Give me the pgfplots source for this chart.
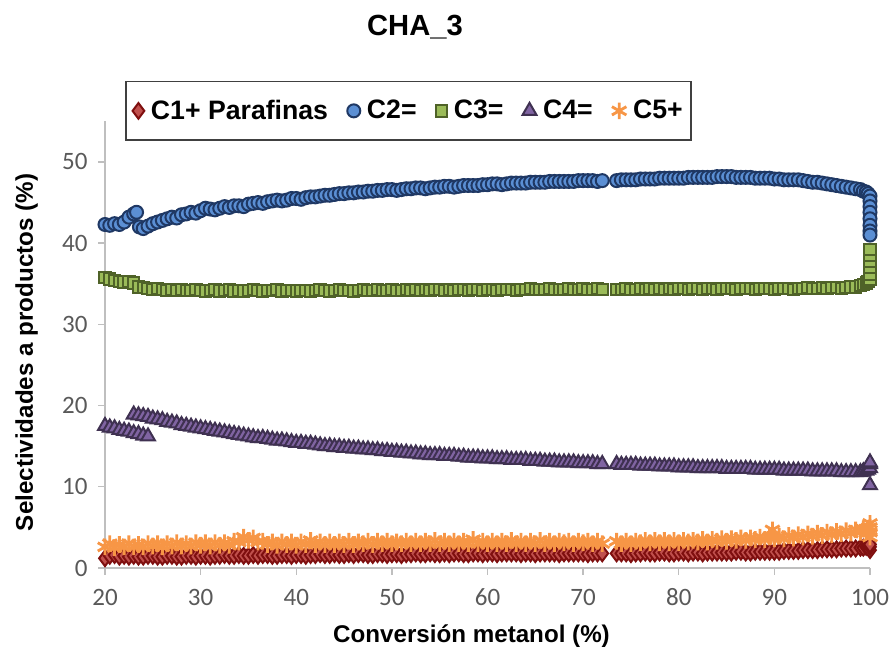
\documentclass[border=0pt]{standalone}
\usepackage{pgfplots}
\pgfplotsset{compat=1.18}
\usepackage{fontspec}
\setmainfont{Liberation Sans}
\newfontfamily\carlito{Carlito}
\definecolor{axisgray}{HTML}{BFBFBF}
\definecolor{tickgray}{HTML}{595959}
\definecolor{legendgray}{HTML}{404040}
\definecolor{redfill}{HTML}{C0504D}
\definecolor{rededge}{HTML}{7F0F0F}
\definecolor{bluefill}{HTML}{5B8FD4}
\definecolor{blueedge}{HTML}{1F3864}
\definecolor{greenfill}{HTML}{9BBB59}
\definecolor{greenedge}{HTML}{4F6228}
\definecolor{purplefill}{HTML}{8064A2}
\definecolor{purpleedge}{HTML}{3F3151}
\definecolor{orangec}{HTML}{F79646}
\pgfplotsset{
  mk/.style={only marks,
    legend image code/.code={\draw[##1] plot coordinates {(0pt,0pt)};}},
}
\begin{document}
\begin{tikzpicture}
\useasboundingbox (0,0) rectangle (535.8pt,389.4pt);
\begin{axis}[
  at={(63pt,48.6pt)}, anchor=south west,
  scale only axis, width=459pt, height=268pt,
  xmin=20, xmax=100, ymin=0, ymax=55,
  axis x line=bottom, axis y line=left,
  axis line style={-, draw=axisgray, line width=0.8pt},
  xtick={20,30,...,100}, ytick={0,10,...,50},
  tick align=outside, major tick length=4pt,
  tick style={draw=axisgray, line width=0.8pt},
  ticklabel style={font=\carlito\fontsize{15}{18}\selectfont, text=tickgray},
  xticklabel style={yshift=-5pt},
  yticklabel style={xshift=-3pt},
  /pgf/number format/assume math mode=true,
  clip=false,
  legend columns=5,
  legend style={at={(0.3967,1.0235)}, anchor=center, draw=legendgray,
    line width=0.8pt, font=\bfseries\fontsize{16}{19}\selectfont,
    inner xsep=4pt, inner ysep=9pt,
    /tikz/every odd column/.append style={column sep=3pt},
    /tikz/every even column/.append style={column sep=10.5pt},
    nodes={inner xsep=1pt}},
]
\addplot[mk, mark=diamond*, mark size=4.7pt, mark options={fill=redfill, draw=rededge, line width=1.2pt}] coordinates {
(20,1.2) (20.5,1.5) (21,1.6) (21.5,1.4) (22,1.5) (22.5,1.4) (23,1.5) (23.5,1.4) (24,1.4) (24.5,1.5) (25,1.5) (25.5,1.4) (26,1.4) (26.5,1.5) (27,1.5) (27.5,1.4) (28,1.4) (28.5,1.5) (29,1.5) (29.5,1.4) (30,1.5) (30.5,1.5) (31,1.4) (31.5,1.5) (32,1.5) (32.5,1.6) (33,1.5) (33.5,1.5) (34,1.6) (34.5,1.5) (35,1.5) (35.5,1.6) (36,1.5) (36.5,1.6) (37,1.6) (37.5,1.5) (38,1.5) (38.5,1.6) (39,1.6) (39.5,1.5) (40,1.6) (40.5,1.6) (41,1.5) (41.5,1.6) (42,1.6) (42.5,1.7) (43,1.6) (43.5,1.6) (44,1.7) (44.5,1.6) (45,1.6) (45.5,1.7) (46,1.6) (46.5,1.7) (47,1.7) (47.5,1.6) (48,1.6) (48.5,1.7) (49,1.7) (49.5,1.6) (50,1.7) (50.5,1.7) (51,1.6) (51.5,1.7) (52,1.7) (52.5,1.8) (53,1.7) (53.5,1.7) (54,1.8) (54.5,1.7) (55,1.7) (55.5,1.8) (56,1.7) (56.5,1.8) (57,1.8) (57.5,1.7) (58,1.7) (58.5,1.8) (59,1.8) (59.5,1.7) (60,1.8) (60.5,1.8) (61,1.7) (61.5,1.8) (62,1.8) (62.5,1.8) (63,1.8) (63.5,1.7) (64,1.8) (64.5,1.8) (65,1.7) (65.5,1.8) (66,1.8) (66.5,1.8) (67,1.8) (67.5,1.7) (68,1.8) (68.5,1.8) (69,1.8) (69.5,1.8) (70,1.8) (70.5,1.7) (71,1.8) (71.5,1.8) (72,1.8)
(73.5,1.8) (74,1.8) (74.5,1.8) (75,1.7) (75.5,1.8) (76,1.8) (76.5,1.9) (77,1.8) (77.5,1.8) (78,1.9) (78.5,1.9) (79,1.8) (79.5,1.8) (80,1.9) (80.5,1.9) (81,1.8) (81.5,1.9) (82,1.9) (82.5,1.8) (83,1.9) (83.5,1.9) (84,1.9) (84.5,1.9) (85,1.9) (85.5,1.9) (86,2.0) (86.5,2.0) (87,1.9) (87.5,1.9) (88,2.0) (88.5,2.0) (89,2.0) (89.5,2.0) (90,2.0) (90.5,2.0) (91,2.1) (91.5,2.1) (92,2.1) (92.5,2.1) (93,2.2) (93.5,2.2) (94,2.2) (94.5,2.2) (95,2.3) (95.5,2.3) (96,2.3) (96.5,2.3) (97,2.4) (97.5,2.4) (98,2.4) (98.5,2.4) (99,2.5) (99.3,2.5) (99.6,2.6) (99.8,2.6) (100,2.2) (100,2.6) (100,2.9)
};
\addlegendentry{C1+ Parafinas}
\addplot[mk, mark=*, mark size=3.9pt, mark options={fill=bluefill, draw=blueedge, line width=1.2pt}] coordinates {
(20,42.3) (20.5,42.2) (21,42.4) (21.5,42.3) (22,42.6) (22.5,43.2) (23,43.6) (23.3,43.8) (23.6,42.0) (24,41.8) (24.5,42.1) (25,42.4) (25.5,42.6) (26,42.8) (26.5,43.0) (27,43.2) (27.5,43.1) (28,43.5) (28.5,43.6) (29,43.8) (29.5,43.7)
(30,44.0) (30.5,44.3) (31,44.2) (31.5,44.1) (32,44.3) (32.5,44.5) (33,44.4) (33.5,44.6) (34,44.6) (34.5,44.5) (35,44.8) (35.5,44.9) (36,45.0) (36.5,44.9) (37,45.1) (37.5,45.2) (38,45.3) (38.5,45.2) (39,45.3) (39.5,45.5) (40,45.5) (40.5,45.4) (41,45.6) (41.5,45.7) (42,45.7) (42.5,45.8) (43,45.9) (43.5,45.9) (44,46.0) (44.5,46.1) (45,46.1) (45.5,46.2) (46,46.2) (46.5,46.3) (47,46.3) (47.5,46.4) (48,46.4) (48.5,46.5) (49,46.5) (49.5,46.6) (50,46.6) (50.5,46.5) (51,46.6) (51.5,46.7) (52,46.7) (52.5,46.8) (53,46.8) (53.5,46.7) (54,46.8) (54.5,46.9) (55,46.9) (55.5,47.0) (56,47.0) (56.5,46.9) (57,47.0) (57.5,47.1) (58,47.1) (58.5,47.1) (59,47.1) (59.5,47.2) (60,47.2) (60.5,47.3) (61,47.3) (61.5,47.2) (62,47.3) (62.5,47.4) (63,47.4) (63.5,47.4) (64,47.4) (64.5,47.5) (65,47.5) (65.5,47.5) (66,47.5) (66.5,47.6) (67,47.6) (67.5,47.6) (68,47.6) (68.5,47.6) (69,47.6) (69.5,47.7) (70,47.7) (70.5,47.7) (71,47.7) (71.5,47.6) (72,47.7)
(73.5,47.7) (74,47.8) (74.5,47.8) (75,47.8) (75.5,47.8) (76,47.9) (76.5,47.9) (77,47.9) (77.5,47.9) (78,48.0) (78.5,48.0) (79,48.0) (79.5,48.0) (80,48.0) (80.5,48.0) (81,48.1) (81.5,48.1) (82,48.1) (82.5,48.1) (83,48.1) (83.5,48.1) (84,48.2) (84.5,48.2) (85,48.2) (85.5,48.2) (86,48.1) (86.5,48.1) (87,48.1) (87.5,48.1) (88,48.0) (88.5,48.0) (89,48.0) (89.5,48.0) (90,47.9) (90.5,47.9) (91,47.8) (91.5,47.8) (92,47.8) (92.5,47.8) (93,47.7) (93.5,47.6) (94,47.5) (94.5,47.5) (95,47.4) (95.5,47.3) (96,47.2) (96.5,47.1) (97,47.0) (97.5,46.9) (98,46.8) (98.5,46.7) (99,46.6) (99.3,46.4) (99.6,46.3) (99.8,46.1) (100,45.8) (100,45.2) (100,44.5) (100,43.8) (100,43.0) (100,42.2) (100,41.5) (100,41.0)
};
\addlegendentry{C2=}
\addplot[mk, mark=square*, mark size=3.4pt, mark options={fill=greenfill, draw=greenedge, line width=1.2pt}] coordinates {
(20,35.8) (20.5,35.6) (21,35.4) (21.5,35.3) (22,35.2) (22.5,35.3) (23,35.1) (23.5,34.6) (24,34.5) (24.5,34.4) (25,34.3) (25.5,34.4) (26,34.3) (26.5,34.2) (27,34.3) (27.5,34.2) (28,34.3) (28.5,34.2) (29,34.2) (29.5,34.3)
(30,34.2) (30.5,34.1) (31,34.2) (31.5,34.3) (32,34.1) (32.5,34.2) (33,34.3) (33.5,34.1) (34,34.2) (34.5,34.1) (35,34.2) (35.5,34.3) (36,34.2) (36.5,34.1) (37,34.2) (37.5,34.2) (38,34.3) (38.5,34.1) (39,34.2) (39.5,34.2) (40,34.1) (40.5,34.2) (41,34.2) (41.5,34.1) (42,34.2) (42.5,34.3) (43,34.2) (43.5,34.1) (44,34.2) (44.5,34.3) (45,34.2) (45.5,34.2) (46,34.1) (46.5,34.2) (47,34.3) (47.5,34.2) (48,34.2) (48.5,34.3) (49,34.2) (49.5,34.2) (50,34.3) (50.5,34.2) (51,34.2) (51.5,34.3) (52,34.2) (52.5,34.3) (53,34.2) (53.5,34.3) (54,34.2) (54.5,34.3) (55,34.3) (55.5,34.2) (56,34.3) (56.5,34.2) (57,34.3) (57.5,34.3) (58,34.2) (58.5,34.3) (59,34.3) (59.5,34.2) (60,34.3) (60.5,34.3) (61,34.2) (61.5,34.3) (62,34.3) (62.5,34.3) (63,34.2) (63.5,34.3) (64,34.3) (64.5,34.4) (65,34.3) (65.5,34.3) (66,34.3) (66.5,34.4) (67,34.3) (67.5,34.3) (68,34.3) (68.5,34.4) (69,34.3) (69.5,34.3) (70,34.4) (70.5,34.3) (71,34.3) (71.5,34.4) (72,34.3)
(73.5,34.3) (74,34.3) (74.5,34.4) (75,34.3) (75.5,34.3) (76,34.4) (76.5,34.3) (77,34.4) (77.5,34.3) (78,34.4) (78.5,34.3) (79,34.4) (79.5,34.3) (80,34.4) (80.5,34.4) (81,34.3) (81.5,34.4) (82,34.4) (82.5,34.3) (83,34.4) (83.5,34.4) (84,34.3) (84.5,34.4) (85,34.4) (85.5,34.4) (86,34.3) (86.5,34.4) (87,34.4) (87.5,34.4) (88,34.3) (88.5,34.4) (89,34.4) (89.5,34.4) (90,34.3) (90.5,34.4) (91,34.4) (91.5,34.4) (92,34.3) (92.5,34.4) (93,34.4) (93.5,34.5) (94,34.4) (94.5,34.4) (95,34.5) (95.5,34.4) (96,34.5) (96.5,34.5) (97,34.4) (97.5,34.5) (98,34.6) (98.5,34.6) (99,34.8) (99.3,34.9) (99.6,35.1) (99.8,35.3) (100,35.5) (100,36.2) (100,37.0) (100,37.8) (100,38.5) (100,39.2)
};
\addlegendentry{C3=}
\addplot[mk, mark=triangle*, mark size=4.8pt, mark options={fill=purplefill, draw=purpleedge, line width=1.2pt}] coordinates {
(20,17.5) (20.5,17.3) (21,17.2) (21.5,17.0) (22,16.9) (22.5,16.8) (23,16.6) (23.5,16.5) (24,16.3) (24.5,16.2)
(23,18.9) (23.5,18.8) (24,18.7) (24.5,18.6) (25,18.4) (25.5,18.3) (26,18.2) (26.5,18.0) (27,17.9) (27.5,17.8) (28,17.6) (28.5,17.5) (29,17.4) (29.5,17.3)
(30,17.2) (30.5,17.1) (31,17.0) (31.5,16.9) (32,16.8) (32.5,16.7) (33,16.6) (33.5,16.5) (34,16.4) (34.5,16.3) (35,16.2) (35.5,16.1) (36,16.0) (36.5,16.0) (37,15.9) (37.5,15.8) (38,15.7) (38.5,15.7) (39,15.6) (39.5,15.5) (40,15.4) (40.5,15.4) (41,15.3) (41.5,15.3) (42,15.2) (42.5,15.1) (43,15.0) (43.5,15.0) (44,14.9) (44.5,14.9) (45,14.8) (45.5,14.8) (46,14.7) (46.5,14.7) (47,14.6) (47.5,14.6) (48,14.5) (48.5,14.5) (49,14.4) (49.5,14.4) (50,14.3) (50.5,14.3) (51,14.2) (51.5,14.2) (52,14.1) (52.5,14.1) (53,14.0) (53.5,14.0) (54,13.9) (54.5,13.9) (55,13.9) (55.5,13.8) (56,13.8) (56.5,13.8) (57,13.7) (57.5,13.7) (58,13.6) (58.5,13.6) (59,13.6) (59.5,13.5) (60,13.5) (60.5,13.5) (61,13.4) (61.5,13.4) (62,13.4) (62.5,13.3) (63,13.3) (63.5,13.3) (64,13.3) (64.5,13.2) (65,13.2) (65.5,13.2) (66,13.1) (66.5,13.1) (67,13.1) (67.5,13.0) (68,13.0) (68.5,13.0) (69,13.0) (69.5,12.9) (70,12.9) (70.5,12.9) (71,12.9) (71.5,12.8) (72,12.8)
(73.5,12.8) (74,12.7) (74.5,12.7) (75,12.7) (75.5,12.7) (76,12.6) (76.5,12.6) (77,12.6) (77.5,12.6) (78,12.5) (78.5,12.5) (79,12.5) (79.5,12.5) (80,12.4) (80.5,12.4) (81,12.4) (81.5,12.4) (82,12.3) (82.5,12.3) (83,12.3) (83.5,12.3) (84,12.3) (84.5,12.3) (85,12.2) (85.5,12.2) (86,12.2) (86.5,12.2) (87,12.2) (87.5,12.2) (88,12.1) (88.5,12.1) (89,12.1) (89.5,12.1) (90,12.1) (90.5,12.1) (91,12.0) (91.5,12.0) (92,12.0) (92.5,12.0) (93,12.0) (93.5,12.0) (94,11.9) (94.5,11.9) (95,11.9) (95.5,11.9) (96,11.9) (96.5,11.9) (97,11.8) (97.5,11.8) (98,11.8) (98.5,11.8) (99,11.8) (99.3,11.9) (99.6,12.0) (99.8,12.1) (100,12.3) (100,12.8) (100,13.0) (100,10.2)
};
\addlegendentry{C4=}
\addplot[mk, mark=asterisk, mark size=5pt, mark options={draw=orangec, line width=1.7pt}] coordinates {
(20,2.6) (20.5,3.0) (21,2.5) (21.5,2.9) (22,2.6) (22.5,3.0) (23,2.6) (23.5,2.9) (24,2.6) (24.5,3.0) (25,2.7) (25.5,3.0) (26,2.6) (26.5,3.0) (27,2.7) (27.5,3.1) (28,2.7) (28.5,3.0) (29,2.7) (29.5,3.1) (30,2.8) (30.5,3.1) (31,2.7) (31.5,3.1) (32,2.8) (32.5,3.1) (33,2.8) (33.5,3.3) (34,3.2) (34.5,3.8) (35,3.4) (35.5,3.7) (36,3.2) (36.5,3.3) (37,2.9) (37.5,3.2) (38,2.8) (38.5,3.2) (39,2.9) (39.5,3.2) (40,2.8) (40.5,3.2) (41,2.9) (41.5,3.4) (42,2.9) (42.5,3.2) (43,2.9) (43.5,3.2) (44,2.9) (44.5,3.2) (45,2.9) (45.5,3.3) (46,2.9) (46.5,3.2) (47,3.0) (47.5,3.3) (48,2.9) (48.5,3.3) (49,3.0) (49.5,3.3) (50,3.0) (50.5,3.2) (51,3.0) (51.5,3.3) (52,3.0) (52.5,3.3) (53,3.0) (53.5,3.3) (54,3.0) (54.5,3.4) (55,3.0) (55.5,3.3) (56,3.0) (56.5,3.3) (57,3.0) (57.5,3.3) (58,3.0) (58.5,3.5) (59,3.0) (59.5,3.3) (60,3.0) (60.5,3.3) (61,3.0) (61.5,3.3) (62,3.0) (62.5,3.4) (63,3.0) (63.5,3.3) (64,3.0) (64.5,3.3) (65,3.0) (65.5,3.4) (66,3.0) (66.5,3.3) (67,3.0) (67.5,3.3) (68,3.1) (68.5,3.3) (69,3.0) (69.5,3.3) (70,3.1) (70.5,3.3) (71,3.0) (71.5,3.3) (72,3.0)
(73.5,3.3) (74,3.0) (74.5,3.3) (75,3.0) (75.5,3.3) (76,3.1) (76.5,3.4) (77,3.1) (77.5,3.4) (78,3.1) (78.5,3.4) (79,3.1) (79.5,3.4) (80,3.1) (80.5,3.4) (81,3.2) (81.5,3.4) (82,3.2) (82.5,3.5) (83,3.2) (83.5,3.5) (84,3.3) (84.5,3.6) (85,3.3) (85.5,3.6) (86,3.4) (86.5,3.7) (87,3.4) (87.5,3.7) (88,3.5) (88.5,3.8) (89,3.5) (89.5,3.8) (89.8,4.7) (90,3.6) (90.5,3.9) (91,3.6) (91.5,4.0) (92,3.7) (92.5,4.1) (93,3.8) (93.5,4.2) (94,3.9) (94.5,4.3) (95,4.0) (95.5,4.4) (96,4.1) (96.5,4.5) (97,4.2) (97.5,4.6) (98,4.3) (98.5,4.7) (99,4.4) (99.3,4.8) (99.6,4.5) (99.8,4.9) (100,3.8) (100,4.4) (100,5.0) (100,5.5)
};
\addlegendentry{C5+}
\end{axis}
\node[anchor=base, font=\bfseries\fontsize{17.5}{20}\selectfont] at (249pt,368.4pt) {CHA\_3};
\node[anchor=base, font=\bfseries\fontsize{14.5}{17}\selectfont] at (282.9pt,3.9pt) {Conversión metanol (\%)};
\node[anchor=base, rotate=90, font=\bfseries\fontsize{14.5}{17}\selectfont] at (19.8pt,177.9pt) {Selectividades a productos (\%)};
\end{tikzpicture}
\end{document}
